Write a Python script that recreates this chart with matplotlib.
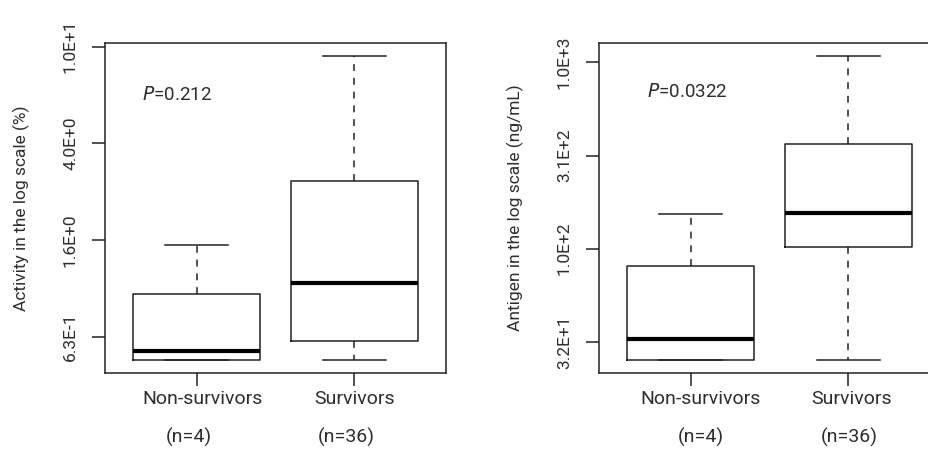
import numpy as np
import matplotlib.pyplot as plt
from matplotlib.transforms import ScaledTranslation

plt.rcParams['font.family'] = ['Roboto', 'DejaVu Sans']

# Categories and counts
groups = ["Non-survivors", "Survivors"]
counts = ["(n=4)", "(n=36)"]

# Activity (%) box statistics
act_whislo = [0.506, 0.506]
act_q1 = [0.506, 0.608]
act_med = [0.551, 1.057]
act_q3 = [0.948, 2.77]
act_whishi = [1.507, 9.16]
act_ticks = [10**-0.2, 10**0.2, 10**0.6, 10**1.0]
act_ticklabels = ["6.3E-1", "1.6E+0", "4.0E+0", "1.0E+1"]
act_ylim = (10**-0.350, 10**1.015)

# Antigen (ng/mL) box statistics
ant_whislo = [25.2, 25.2]
ant_q1 = [25.2, 101.6]
ant_med = [32.7, 155.6]
ant_q3 = [81.0, 365.0]
ant_whishi = [154.0, 1086.0]
ant_ticks = [10**1.5, 10**2.0, 10**2.5, 10**3.0]
ant_ticklabels = ["3.2E+1", "1.0E+2", "3.1E+2", "1.0E+3"]
ant_ylim = (10**1.333, 10**3.104)

W, H = 929, 472
fig = plt.figure(figsize=(W / 100, H / 100), dpi=100)
ink = '#222222'
txt = '#2e2e2e'

def panel(rect, whislo, q1, med, q3, whishi, ticks, ticklabels, ylim,
		  ylabel, ptext, ptext_xy, name_shift, n_shift):
	ax = fig.add_axes(rect)
	stats = []
	for i in range(len(groups)):
		stats.append(dict(whislo=whislo[i], q1=q1[i], med=med[i],
						  q3=q3[i], whishi=whishi[i], fliers=[]))
	ax.bxp(stats, positions=[1, 2], widths=0.8, showfliers=False,
		   boxprops=dict(color=ink, lw=1.1),
		   medianprops=dict(color='black', lw=3.0, solid_capstyle='butt'),
		   whiskerprops=dict(color=ink, lw=1.1, linestyle=(0, (4.5, 4.5))),
		   capprops=dict(color=ink, lw=1.1), capwidths=0.4)
	ax.set_yscale('log')
	ax.set_ylim(*ylim)
	ax.set_xlim(0.42, 2.58)
	ax.set_yticks(ticks)
	ax.set_yticklabels(ticklabels)
	ax.yaxis.set_minor_locator(plt.NullLocator())
	for lbl in ax.get_yticklabels():
		lbl.set_rotation(90)
		lbl.set_va('center')
	ax.tick_params(axis='y', length=9.4, width=1.1, pad=10, labelsize=12.5,
				   colors=ink, labelcolor=txt)
	ax.set_xticks([1, 2])
	ax.set_xticklabels(groups)
	ax.tick_params(axis='x', length=9.4, width=1.1, pad=3, labelsize=14,
				   colors=ink, labelcolor=txt)
	for lbl, dx in zip(ax.get_xticklabels(), name_shift):
		lbl.set_transform(lbl.get_transform() +
						  ScaledTranslation(dx / 100, 0, fig.dpi_scale_trans))
	for i, c in enumerate(counts):
		ax.annotate(c, xy=(i + 1, 0), xycoords=('data', 'axes fraction'),
					xytext=(n_shift[i] * 0.72, -64 * 0.72), textcoords='offset points',
					ha='center', va='center', fontsize=14, color=txt)
	for s in ax.spines.values():
		s.set_linewidth(1.1)
		s.set_color(ink)
	ax.set_ylabel(ylabel, fontsize=12.5, color=txt)
	ax.yaxis.set_label_coords(-0.22, 0.5)
	ax.text(ptext_xy[0], ptext_xy[1], ptext, transform=ax.transAxes,
			fontsize=13.5, color=txt, ha='left', va='center')
	return ax

panel([105 / W, 99 / H, 341 / W, 330 / H],
	  act_whislo, act_q1, act_med, act_q3, act_whishi,
	  act_ticks, act_ticklabels, act_ylim,
	  "Activity in the log scale (%)", r"$\it{P}$=0.212",
	  ((141.7 - 105) / 341, (373 - 95) / 330), [6, 0], [-8, -8])

panel([599 / W, 99 / H, 341 / W, 330 / H],
	  ant_whislo, ant_q1, ant_med, ant_q3, ant_whishi,
	  ant_ticks, ant_ticklabels, ant_ylim,
	  "Antigen in the log scale (ng/mL)", r"$\it{P}$=0.0322",
	  ((646.7 - 599) / 341, (373 - 92) / 330), [10, 3], [10, 1])

fig.savefig("out.png", dpi=100)
